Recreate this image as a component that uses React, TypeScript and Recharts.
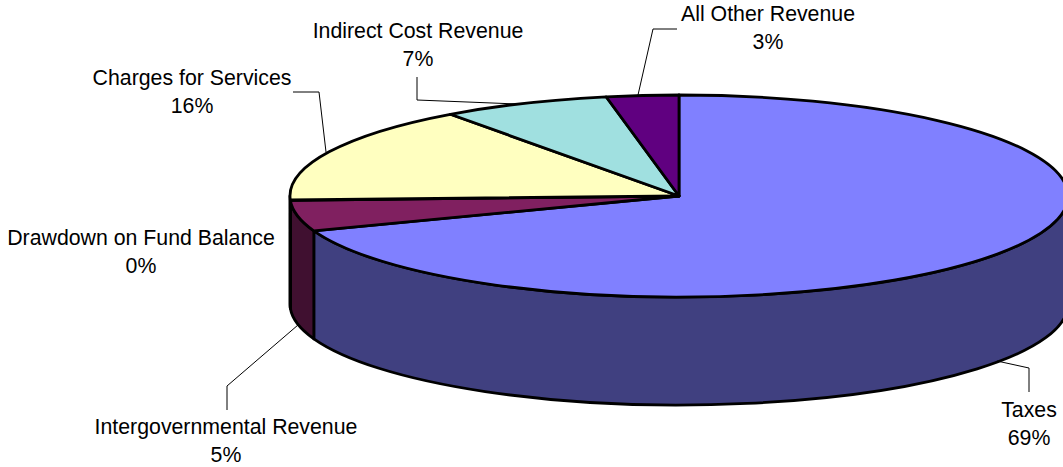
import { Pie, PieChart } from 'recharts';

const categories = [
  'Taxes',
  'Intergovernmental Revenue',
  'Drawdown on Fund Balance',
  'Charges for Services',
  'Indirect Cost Revenue',
  'All Other Revenue',
];
const shareValues = [69.4, 4.9, 0.1, 15.6, 7.0, 3.0];
const shareLabels = ['69%', '5%', '0%', '16%', '7%', '3%'];
const topColors = ['#8080FF', '#802060', '#FFFFC0', '#FFFFC0', '#A0E0E0', '#600080'];
const sideColors = ['#404080', '#401030', '#808060', '#808060', '#507070', '#300040'];

const data = categories.map((name, i) => ({ name, value: shareValues[i], share: shareLabels[i] }));

// pie is squashed into an ellipse, with a wall below the front half
const CX = 679;
const CY = 196;
const RX = 389;
const RY = 101;
const DEPTH = 108;
const FONT_SIZE = 21.3;

// hand placed labels and leader lines, same order as categories
const labelCentre = [
  [1029, 410],
  [226, 427],
  [141, 238],
  [192, 78],
  [418, 31],
  [768, 14],
];
const leaders = [
  '1029,392 1029,368 997,361',
  '227,410 227,386 298,325',
  '',
  '293,92 319,92 326,152',
  '417,77 417,100 517,104',
  '677,29 653,29 638,95',
];

const pt = (deg: number, dy = 0) => {
  const a = (deg * Math.PI) / 180;
  return [CX + RX * Math.cos(a), CY - RY * Math.sin(a) + dy];
};

function SliceShape(props: any) {
  const { startAngle, endAngle, fill, payload } = props;
  const idx = categories.indexOf(payload?.name ?? props.name);
  const [x1, y1] = pt(startAngle);
  const [x2, y2] = pt(endAngle);
  const large = Math.abs(startAngle - endAngle) > 180 ? 1 : 0;
  const top = `M${CX},${CY} L${x1},${y1} A${RX},${RY} 0 ${large} 1 ${x2},${y2} Z`;

  // wall only where the slice crosses the front half (180 to 360 deg, here negative)
  const wallStart = Math.min(startAngle, 0);
  const wallEnd = Math.max(endAngle, -180);
  let wall = null;
  if (wallStart > wallEnd) {
    const [a1, b1] = pt(wallStart);
    const [a2, b2] = pt(wallEnd);
    wall = (
      <path
        d={`M${a1},${b1} A${RX},${RY} 0 0 1 ${a2},${b2} L${a2},${b2 + DEPTH} A${RX},${RY} 0 0 0 ${a1},${b1 + DEPTH} Z`}
        fill={sideColors[idx]}
        stroke="#000"
        strokeWidth={2.8}
        strokeLinejoin="round"
      />
    );
  }
  return (
    <g>
      {wall}
      <path d={top} fill={fill} stroke="#000" strokeWidth={2.8} strokeLinejoin="round" />
    </g>
  );
}

function SliceLabel(props: any) {
  const idx = props.index;
  const [x, y] = labelCentre[idx];
  return (
    <g>
      {leaders[idx] && <polyline points={leaders[idx]} fill="none" stroke="#000" strokeWidth={1} />}
      <text x={x} y={y} textAnchor="middle" dominantBaseline="central" fontFamily="'Liberation Sans'" fontSize={FONT_SIZE} fill="#000">
        {categories[idx]}
      </text>
      <text x={x} y={y + 28} textAnchor="middle" dominantBaseline="central" fontFamily="'Liberation Sans'" fontSize={FONT_SIZE} fill="#000">
        {shareLabels[idx]}
      </text>
    </g>
  );
}

export default function App() {
  const cells = data.map((d, i) => ({ ...d, fill: topColors[i] }));
  return (
    <div style={{ position: 'absolute', left: 0, top: 0, width: 1063, height: 467, overflow: 'hidden', background: '#fff' }}>
      <PieChart width={1063} height={467} margin={{ top: 0, right: 0, bottom: 0, left: 0 }}>
        <Pie
          data={cells}
          dataKey="value"
          nameKey="name"
          cx={CX}
          cy={CY}
          outerRadius={RX}
          startAngle={90}
          endAngle={-270}
          stroke="#000"
          shape={SliceShape}
          label={SliceLabel}
          labelLine={false}
          isAnimationActive={false}
        />
      </PieChart>
    </div>
  );
}
